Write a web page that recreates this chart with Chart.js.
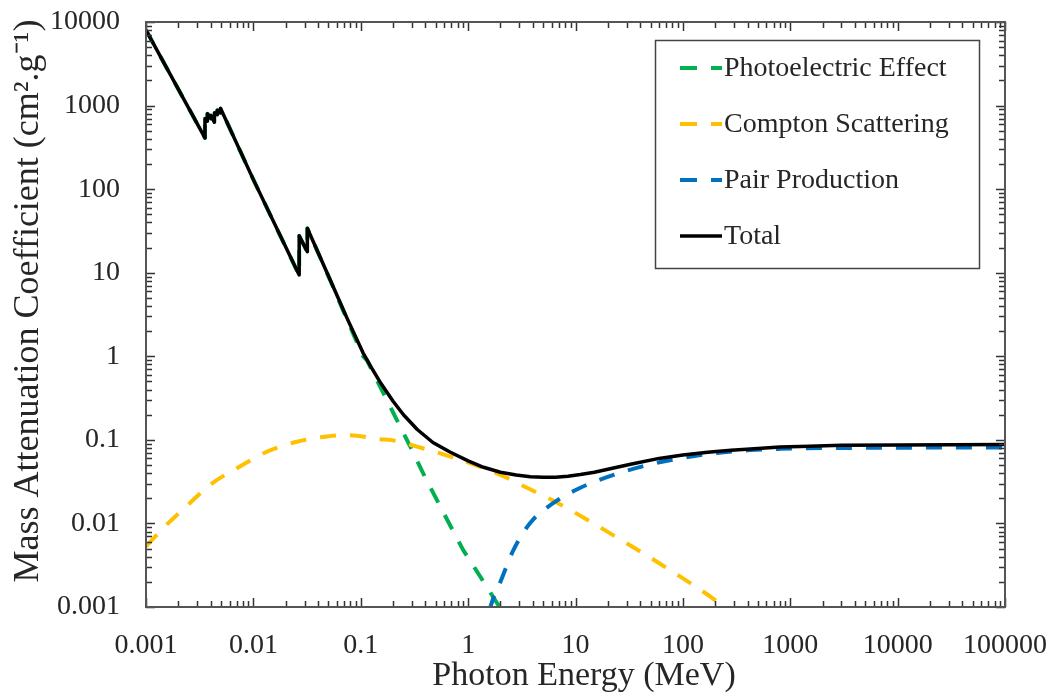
<!DOCTYPE html>
<html>
<head>
<meta charset="utf-8">
<script src="https://cdn.jsdelivr.net/npm/chart.js@4.4.1/dist/chart.umd.min.js"></script>
<style>
html,body{margin:0;padding:0;background:#fff;}
#wrap{width:1052px;height:696px;position:relative;}
</style>
</head>
<body>
<div id="wrap"><canvas id="c" width="1052" height="696"></canvas></div>
<script>
// ---- Data ----
const xTickValues = [0.001, 0.01, 0.1, 1, 10, 100, 1000, 10000, 100000];
const xTickLabels = ['0.001', '0.01', '0.1', '1', '10', '100', '1000', '10000', '100000'];
const yTickValues = [0.001, 0.01, 0.1, 1, 10, 100, 1000, 10000];
const yTickLabels = ['0.001', '0.01', '0.1', '1', '10', '100', '1000', '10000'];

const seriesLabels = ['Photoelectric Effect', 'Compton Scattering', 'Pair Production', 'Total'];
const xTitle = 'Photon Energy (MeV)';
const yTitle = 'Mass Attenuation Coefficient (cm\u00b2.g\u207b\u00b9)';

// Total attenuation
const totalE = [0.001, 0.00354, 0.003541, 0.00373, 0.003731, 0.00402, 0.004021, 0.00434, 0.004341,
  0.00461, 0.004611, 0.00494, 0.004941, 0.01, 0.02671, 0.026711, 0.03181, 0.031811,
  0.052, 0.075, 0.105, 0.125, 0.15, 0.2, 0.25, 0.336, 0.47, 0.684, 1.0, 1.39, 2.0, 2.8, 3.8, 5, 6.5,
  8.5, 11.1, 15, 20, 32.6, 60, 100, 170, 280, 500, 800, 1500, 3000, 10000, 100000];
const totalMu = [8000, 410, 700, 650, 800, 700, 760, 630, 820,
  780, 880, 820, 930, 130, 9.4, 27.6, 17.8, 34,
  8.2, 2.8, 1.1, 0.74, 0.50, 0.29, 0.20, 0.133, 0.093, 0.071, 0.056, 0.047, 0.041, 0.038, 0.0362, 0.0357, 0.0358,
  0.0367, 0.0385, 0.041, 0.0445, 0.051, 0.060, 0.066, 0.071, 0.075, 0.079, 0.082, 0.084, 0.086, 0.087, 0.088];

// Photoelectric effect
const photoE = [0.001, 0.00354, 0.003541, 0.00373, 0.003731, 0.00402, 0.004021, 0.00434, 0.004341,
  0.00461, 0.004611, 0.00494, 0.004941, 0.01, 0.02671, 0.026711, 0.03181, 0.031811,
  0.052, 0.075, 0.105, 0.114, 0.175, 0.233, 0.309, 0.40, 0.64, 0.90, 1.3, 1.87, 2.2];
const photoMu = [8000, 410, 700, 650, 800, 700, 760, 630, 820,
  780, 880, 820, 930, 130, 9.3, 27.5, 17.7, 33.9,
  8.1, 2.7, 1.0, 0.9, 0.30, 0.144, 0.070, 0.035, 0.011, 0.0048, 0.0023, 0.0011, 0.0008];

// Compton scattering
const comptonE = [0.001, 0.0015, 0.00257, 0.0041, 0.0075, 0.0133, 0.0254, 0.0484, 0.075, 0.092,
  0.152, 0.188, 0.334, 0.684, 1.39, 2.32, 3.27, 6.8, 22.6, 66, 211, 300];
const comptonMu = [0.0053, 0.0092, 0.0176, 0.030, 0.048, 0.072, 0.095, 0.110, 0.114, 0.112,
  0.102, 0.100, 0.083, 0.063, 0.046, 0.035, 0.028, 0.0176, 0.0072, 0.0031, 0.00115, 0.0008];

// Pair production
const pairE = [1.35, 1.61, 2.0, 2.64, 3.8, 6.24, 11.1, 22.6, 46.9, 137, 400, 800, 3000, 100000];
const pairMu = [0.0004, 0.001, 0.002, 0.0048, 0.0102, 0.0176, 0.0267, 0.038, 0.050, 0.065, 0.075, 0.078, 0.080, 0.081];

const colors = ['#00b050', '#ffc000', '#0070c0', '#000000'];

function pts(xs, ys) { return xs.map((x, i) => ({ x: x, y: ys[i] })); }

const serif = "'Liberation Serif', 'Times New Roman', serif";
const textColor = '#262626';

// ---- Plugins: frame with inward ticks, and in-plot legend ----
const framePlugin = {
  id: 'frameTicks',
  afterDraw(chart) {
    const ctx = chart.ctx;
    const a = chart.chartArea;
    const xs = chart.scales.x, ys = chart.scales.y;
    ctx.save();
    ctx.strokeStyle = '#333';
    ctx.lineWidth = 1.5;
    const majorLen = 9, minorLen = 6;
    for (let d = -3; d <= 5; d++) {
      for (let m = 1; m <= 9; m++) {
        const v = m * Math.pow(10, d);
        if (v < 0.001 * 0.999 || v > 100000 * 1.001) continue;
        const px = Math.round(xs.getPixelForValue(v)) + 0.5;
        const len = m === 1 ? majorLen : minorLen;
        ctx.beginPath();
        ctx.moveTo(px, a.bottom); ctx.lineTo(px, a.bottom - len);
        ctx.moveTo(px, a.top); ctx.lineTo(px, a.top + len);
        ctx.stroke();
      }
    }
    for (let d = -3; d <= 4; d++) {
      for (let m = 1; m <= 9; m++) {
        const v = m * Math.pow(10, d);
        if (v < 0.001 * 0.999 || v > 10000 * 1.001) continue;
        const py = Math.round(ys.getPixelForValue(v)) + 0.5;
        const len = m === 1 ? majorLen : minorLen;
        ctx.beginPath();
        ctx.moveTo(a.left, py); ctx.lineTo(a.left + len, py);
        ctx.moveTo(a.right, py); ctx.lineTo(a.right - len, py);
        ctx.stroke();
      }
    }
    ctx.strokeStyle = '#555';
    ctx.lineWidth = 2;
    ctx.strokeRect(a.left, a.top, a.right - a.left, a.bottom - a.top);

    // Legend
    const bx = 655.5, by = 40.5, bw = 324, bh = 228;
    ctx.fillStyle = '#fff';
    ctx.fillRect(bx, by, bw, bh);
    ctx.strokeStyle = '#444';
    ctx.lineWidth = 1.5;
    ctx.strokeRect(bx, by, bw, bh);
    [0, 1, 2, 3].forEach((idx, i) => {
      const ds = chart.data.datasets[idx];
      const y = 68 + 56 * i;
      ctx.strokeStyle = ds.borderColor;
      ctx.lineWidth = ds.borderWidth;
      ctx.lineCap = 'butt';
      ctx.beginPath();
      if (ds.borderDash && ds.borderDash.length) {
        ctx.moveTo(680, y); ctx.lineTo(697, y);
        ctx.moveTo(711, y); ctx.lineTo(722, y);
      } else {
        ctx.moveTo(680, y); ctx.lineTo(722, y);
      }
      ctx.stroke();
      ctx.fillStyle = textColor;
      ctx.font = "28px " + serif;
      ctx.textBaseline = 'middle';
      ctx.textAlign = 'left';
      ctx.fillText(ds.label, 724, y + 1);
    });
    ctx.restore();
  }
};

const datasets = [
  { label: seriesLabels[0], data: pts(photoE, photoMu), borderColor: colors[0], borderWidth: 4,
    borderDash: [16, 14], tension: 0, order: 3 },
  { label: seriesLabels[1], data: pts(comptonE, comptonMu), borderColor: colors[1], borderWidth: 4,
    borderDash: [16, 14], cubicInterpolationMode: 'monotone', order: 2 },
  { label: seriesLabels[2], data: pts(pairE, pairMu), borderColor: colors[2], borderWidth: 4,
    borderDash: [16, 14], cubicInterpolationMode: 'monotone', order: 1 },
  { label: seriesLabels[3], data: pts(totalE, totalMu), borderColor: colors[3], borderWidth: 3.5,
    tension: 0, order: 0 }
];
datasets.forEach(d => { d.pointRadius = 0; d.fill = false; d.clip = 0; d.borderJoinStyle = 'round'; });

new Chart(document.getElementById('c'), {
  type: 'line',
  data: { datasets: datasets },
  options: {
    responsive: false,
    animation: false,
    devicePixelRatio: 1,
    layout: { padding: { top: 22, right: 47, bottom: 0, left: 0 } },
    plugins: { legend: { display: false }, tooltip: { enabled: false } },
    scales: {
      x: {
        type: 'logarithmic', min: 0.001, max: 100000,
        afterBuildTicks: s => { s.ticks = xTickValues.map(v => ({ value: v })); },
        afterFit: s => { s.height = 89; s.paddingLeft = 0; s.paddingRight = 0; },
        grid: { display: false, drawTicks: false },
        border: { display: false },
        ticks: { autoSkip: false, maxRotation: 0, padding: 22, color: textColor,
          font: { family: serif, size: 28 },
          callback: (v, i) => xTickLabels[i] },
        title: { display: true, text: '\u00a0\u00a0' + xTitle, color: textColor,
          font: { family: serif, size: 34 }, padding: { top: 0, bottom: 0 } }
      },
      y: {
        type: 'logarithmic', min: 0.001, max: 10000,
        afterBuildTicks: s => { s.ticks = yTickValues.map(v => ({ value: v })); },
        afterFit: s => { s.width = 146; s.paddingTop = 0; s.paddingBottom = 0; },
        grid: { display: false, drawTicks: false },
        border: { display: false },
        ticks: { autoSkip: false, padding: 26, color: textColor,
          font: { family: serif, size: 28 },
          callback: (v, i) => yTickLabels[i] },
        title: { display: true, text: '\u00a0\u00a0\u00a0' + yTitle, color: textColor,
          font: { family: serif, size: 36 }, padding: { top: 7, bottom: 0 } }
      }
    }
  },
  plugins: [framePlugin]
});
</script>
</body>
</html>
